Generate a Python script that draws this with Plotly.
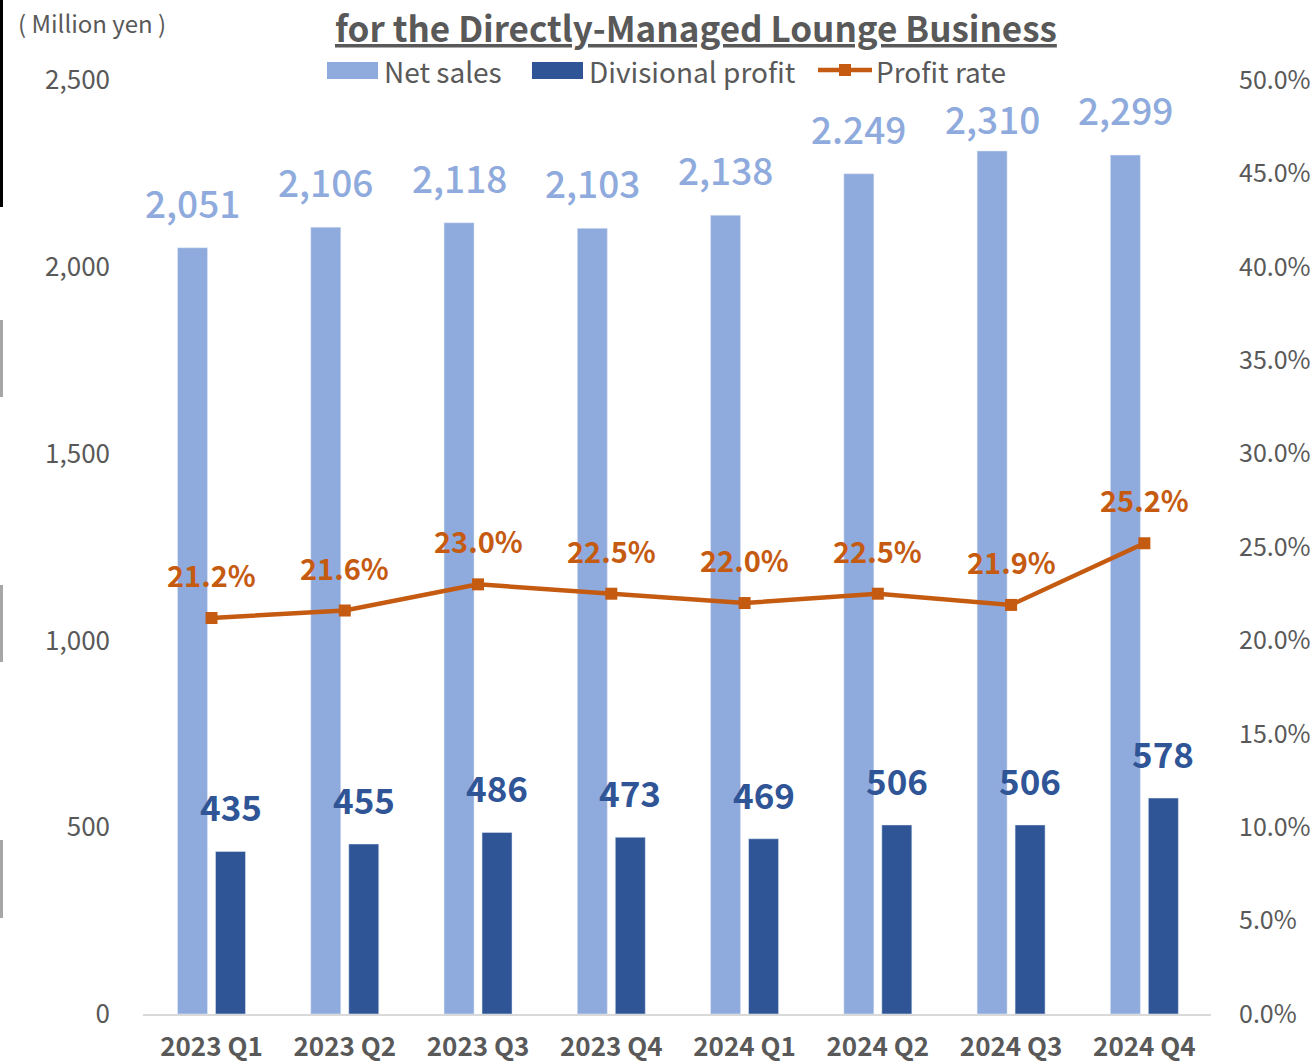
import plotly.graph_objects as go

categories = ["2023 Q1", "2023 Q2", "2023 Q3", "2023 Q4", "2024 Q1", "2024 Q2", "2024 Q3", "2024 Q4"]
net_sales = [2051, 2106, 2118, 2103, 2138, 2249, 2310, 2299]
net_sales_labels = ["2,051", "2,106", "2,118", "2,103", "2,138", "2.249", "2,310", "2,299"]
div_profit = [435, 455, 486, 473, 469, 506, 506, 578]
profit_rate = [21.2, 21.6, 23.0, 22.5, 22.0, 22.5, 21.9, 25.2]
left_ticks = [0, 500, 1000, 1500, 2000, 2500]
left_tick_labels = ["0", "500", "1,000", "1,500", "2,000", "2,500"]
right_ticks = [0, 5, 10, 15, 20, 25, 30, 35, 40, 45, 50]
right_tick_labels = ["0.0%", "5.0%", "10.0%", "15.0%", "20.0%", "25.0%", "30.0%", "35.0%", "40.0%", "45.0%", "50.0%"]
series_names = ["Net sales", "Divisional profit", "Profit rate"]
title_text = "for the Directly-Managed Lounge Business"

LIGHT = "#8FAADC"
DARK = "#2F5597"
ORANGE = "#C55A11"
GRAY = "#595959"
FONT = "Noto Sans CJK JP"

W, H = 1314, 1063
ML, MR, MT, MB = 143, 103, 80, 49
PW, PH = W - ML - MR, H - MT - MB


def px_x(p):
    return (p - ML) / PW


def px_y(p):
    return (H - MB - p) / PH


fig = go.Figure()
fig.add_trace(go.Bar(x=categories, y=net_sales, name=series_names[0], marker_color=LIGHT, showlegend=False))
fig.add_trace(go.Bar(x=categories, y=div_profit, name=series_names[1], marker_color=DARK, showlegend=False))
fig.add_trace(go.Scatter(x=categories, y=profit_rate, name=series_names[2], yaxis="y2",
                         mode="lines+markers", showlegend=False,
                         line=dict(color=ORANGE, width=4.5),
                         marker=dict(symbol="square", size=12, color=ORANGE)))

annotations = []
for i, (c, v, t) in enumerate(zip(categories, net_sales, net_sales_labels)):
    # the 2024 Q3 label sits lower in the original (moved clear of the legend)
    ys = 4 if c == "2024 Q3" else 17
    annotations.append(dict(x=c, y=v, xref="x", yref="y", text=t, showarrow=False,
                            xshift=-19, yshift=ys, yanchor="bottom",
                            font=dict(family=FONT, size=37, color=LIGHT, weight=500)))
for c, v in zip(categories, div_profit):
    annotations.append(dict(x=c, y=v, xref="x", yref="y", text=f"<b>{v}</b>", showarrow=False,
                            xshift=19, yshift=18, yanchor="bottom",
                            font=dict(family=FONT, size=35, color=DARK)))
for c, v in zip(categories, profit_rate):
    annotations.append(dict(x=c, y=v, xref="x", yref="y2", text=f"<b>{v:.1f}%</b>", showarrow=False,
                            yshift=21, yanchor="bottom",
                            font=dict(family=FONT, size=29, color=ORANGE)))
annotations.append(dict(x=px_x(16), y=px_y(23), xref="paper", yref="paper", xanchor="left", yanchor="middle",
                        text="( Million yen )", showarrow=False,
                        font=dict(family=FONT, size=24, color=GRAY)))
# title
annotations.append(dict(x=px_x(696), y=px_y(0), xref="paper", yref="paper", xanchor="center", yanchor="top",
                        text=f"<b><u>{title_text}</u></b>", showarrow=False, borderpad=0,
                        font=dict(family=FONT, size=35, color=GRAY)))

shapes = []
# slide-edge artifacts on the left
for (y0, y1, col) in [(0, 207, "#000000"), (320, 397, "#A6A6A6"),
                      (585, 662, "#A6A6A6"), (840, 918, "#A6A6A6")]:
    shapes.append(dict(type="rect", xref="paper", yref="paper", x0=px_x(0), x1=px_x(3),
                       y0=px_y(y1), y1=px_y(y0), fillcolor=col, line_width=0, layer="above"))

# manual legend
leg_y = 71
shapes.append(dict(type="rect", xref="paper", yref="paper", x0=px_x(327), x1=px_x(378),
                   y0=px_y(79), y1=px_y(62), fillcolor=LIGHT, line_width=0))
shapes.append(dict(type="rect", xref="paper", yref="paper", x0=px_x(532), x1=px_x(583),
                   y0=px_y(79), y1=px_y(62), fillcolor=DARK, line_width=0))
shapes.append(dict(type="line", xref="paper", yref="paper", x0=px_x(818), x1=px_x(872),
                   y0=px_y(70), y1=px_y(70), line=dict(color=ORANGE, width=4.5)))
shapes.append(dict(type="rect", xref="paper", yref="paper", x0=px_x(839), x1=px_x(851),
                   y0=px_y(76), y1=px_y(64), fillcolor=ORANGE, line_width=0))
for name, xp in zip(series_names, [383, 588, 875]):
    annotations.append(dict(x=px_x(xp), y=px_y(leg_y), xref="paper", yref="paper",
                            xanchor="left", yanchor="middle", text=name, showarrow=False,
                            borderpad=0,
                            font=dict(family=FONT, size=28, color=GRAY)))

fig.update_layout(
    width=W, height=H,
    margin=dict(l=ML, r=MR, t=MT, b=MB, autoexpand=False),
    paper_bgcolor="white", plot_bgcolor="white",
    barmode="group", bargap=0.43, bargroupgap=0.21,
    font=dict(family=FONT, color=GRAY),
    xaxis=dict(showgrid=False, showline=True, linecolor="#D9D9D9", linewidth=2,
               ticks="", tickfont=dict(family=FONT, size=26, color=GRAY), automargin=False,
               ticklabelstandoff=9, tickprefix="<b>", ticksuffix="</b>"),
    yaxis=dict(range=[0, 2500], tickvals=left_ticks, ticktext=left_tick_labels,
               showgrid=False, zeroline=False, showline=False, automargin=False,
               tickfont=dict(family=FONT, size=26, color=GRAY), ticklabelstandoff=32),
    yaxis2=dict(range=[0, 50], tickvals=right_ticks, ticktext=right_tick_labels,
                overlaying="y", side="right", showgrid=False, zeroline=False, showline=False,
                automargin=False,
                tickfont=dict(family=FONT, size=25, color=GRAY), ticklabelstandoff=27),
    annotations=annotations,
    shapes=shapes,
    showlegend=False,
)

fig.write_html("out.html", config={"displayModeBar": False},
               post_script="document.body.style.margin='0';")
